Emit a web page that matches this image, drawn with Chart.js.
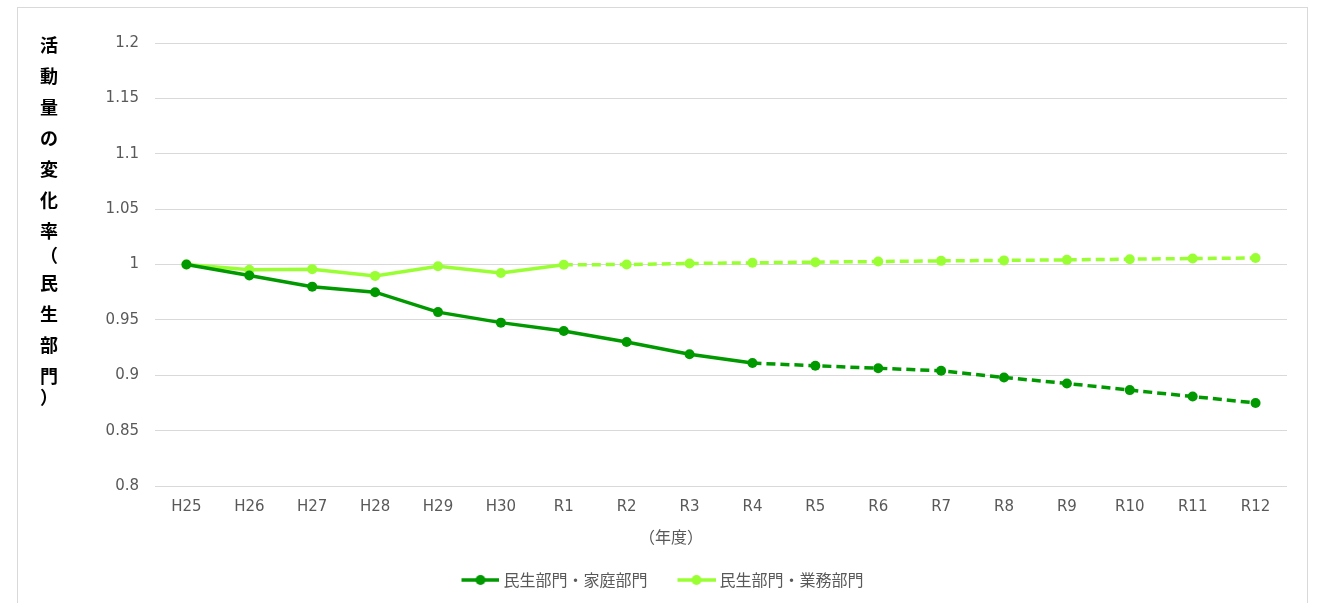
<!DOCTYPE html>
<html lang="ja">
<head>
<meta charset="utf-8">
<title>活動量の変化率（民生部門）</title>
<script src="https://cdn.jsdelivr.net/npm/chart.js@4.4.1/dist/chart.umd.min.js"></script>
<style>
  html, body { margin: 0; padding: 0; background: #ffffff; overflow: hidden; }
  #frame {
    position: absolute;
    left: 17px;
    top: 7px;
    width: 1289px;
    height: 595px;
    border: 1px solid #d9d9d9;
    background: #ffffff;
  }
  #chart { display: block; }
</style>
</head>
<body>
<div id="frame"><canvas id="chart" width="1289" height="595"></canvas></div>
<script>
// Fiscal years (Heisei 25 .. Reiwa 12)
const categories = ['H25', 'H26', 'H27', 'H28', 'H29', 'H30', 'R1', 'R2', 'R3',
                    'R4', 'R5', 'R6', 'R7', 'R8', 'R9', 'R10', 'R11', 'R12'];

// Activity change rate, residential (household) sector
const household = [1.000, 0.990, 0.980, 0.975, 0.957, 0.9475, 0.940, 0.930, 0.919,
                   0.911, 0.9086, 0.9063, 0.9041, 0.898, 0.8926, 0.8866, 0.8808, 0.875];

// Activity change rate, commercial (business) sector
const business = [1.000, 0.9953, 0.9958, 0.9897, 0.9985, 0.9924, 0.9997, 1.000, 1.0009,
                  1.0015, 1.0021, 1.0027, 1.0033, 1.0037, 1.0042, 1.0048, 1.0054, 1.0059];

// Index of the first projected year for each series (drawn dashed from here on)
const householdProjectionStart = 9;   // R4
const businessProjectionStart = 6;    // R1

const seriesNames = ['民生部門・家庭部門', '民生部門・業務部門'];
const yAxisTitle = ['活', '動', '量', 'の', '変', '化', '率', '（', '民', '生', '部', '門', '）'];
const xAxisTitle = '（年度）';

const yMin = 0.8, yMax = 1.2, yStep = 0.05;

const DARK_GREEN = '#009900';
const LIGHT_GREEN = '#99ff33';
const TEXT_GRAY = '#595959';
const GRID_GRAY = '#d9d9d9';
const LATIN_FONT = '"DejaVu Sans", Verdana, sans-serif';
const CJK_FONT = '"Noto Sans CJK JP", "Noto Sans", sans-serif';

// Legend swatch: a short line with a dot in the middle.
// The image is 42px wide with a 4px transparent lead so that, centred on a
// 34px legend box, the line runs from the box start to 4px before the text.
function legendSwatch(color) {
  const c = document.createElement('canvas');
  c.width = 42; c.height = 12;
  const g = c.getContext('2d');
  g.strokeStyle = color;
  g.lineWidth = 3.5;
  g.beginPath();
  g.moveTo(4, 6); g.lineTo(42, 6);
  g.stroke();
  g.fillStyle = color;
  g.beginPath();
  g.arc(23, 6, 5, 0, Math.PI * 2);
  g.fill();
  return c;
}

function dashedFrom(start) {
  return { borderDash: ctx => (ctx.p0DataIndex >= start ? [9, 5] : undefined) };
}

// Stacked vertical y title and the x title placed under the tick labels
const axisTitles = {
  id: 'axisTitles',
  afterDraw(chart) {
    const ctx = chart.ctx;
    ctx.save();
    ctx.fillStyle = '#000000';
    ctx.font = 'bold 18px ' + CJK_FONT;
    ctx.textAlign = 'center';
    ctx.textBaseline = 'middle';
    let y = 37;
    yAxisTitle.forEach((ch, i) => {
      ctx.fillText(ch, 31, y);
      const next = yAxisTitle[i + 1];
      if (next === '（') y += 24;
      else if (ch === '（') y += 28;
      else if (next === '）') y += 21;
      else y += 31;
    });
    ctx.fillStyle = TEXT_GRAY;
    ctx.font = '16px ' + CJK_FONT;
    ctx.fillText(xAxisTitle, 653, 529);
    ctx.restore();
  }
};

new Chart(document.getElementById('chart'), {
  type: 'line',
  data: {
    labels: categories,
    datasets: [
      {
        label: seriesNames[0],
        data: household,
        borderColor: DARK_GREEN,
        backgroundColor: DARK_GREEN,
        borderWidth: 3.5,
        pointRadius: 5,
        pointHoverRadius: 5,
        pointBorderWidth: 0,
        tension: 0,
        segment: dashedFrom(householdProjectionStart),
        swatch: legendSwatch(DARK_GREEN)
      },
      {
        label: seriesNames[1],
        data: business,
        borderColor: LIGHT_GREEN,
        backgroundColor: LIGHT_GREEN,
        borderWidth: 3.5,
        pointRadius: 5,
        pointHoverRadius: 5,
        pointBorderWidth: 0,
        tension: 0,
        segment: dashedFrom(businessProjectionStart),
        swatch: legendSwatch(LIGHT_GREEN)
      }
    ]
  },
  options: {
    responsive: false,
    animation: false,
    layout: { padding: { left: 20, right: 20, top: 35, bottom: 5 } },
    scales: {
      x: {
        offset: true,
        grid: { display: false, drawTicks: false },
        border: { display: false },
        ticks: {
          color: TEXT_GRAY,
          font: { family: LATIN_FONT, size: 15 },
          padding: 12,
          maxRotation: 0,
          autoSkip: false
        },
        afterFit(scale) { scale.height = 56; }
      },
      y: {
        min: yMin,
        max: yMax,
        grid: { color: GRID_GRAY, lineWidth: 1, drawTicks: false },
        border: { display: false },
        ticks: {
          stepSize: yStep,
          color: TEXT_GRAY,
          font: { family: LATIN_FONT, size: 15 },
          padding: 16,
          callback: v => String(Number(v.toFixed(2)))
        },
        afterFit(scale) { scale.width = 117; }
      }
    },
    plugins: {
      legend: {
        position: 'bottom',
        labels: {
          color: TEXT_GRAY,
          font: { family: CJK_FONT, size: 16 },
          usePointStyle: true,
          pointStyleWidth: 34,
          padding: 30,
          generateLabels(chart) {
            return chart.data.datasets.map((ds, i) => ({
              text: ds.label,
              fillStyle: ds.borderColor,
              strokeStyle: ds.borderColor,
              fontColor: TEXT_GRAY,
              pointStyle: ds.swatch,
              lineWidth: 0,
              hidden: !chart.isDatasetVisible(i),
              datasetIndex: i
            }));
          }
        }
      },
      tooltip: { enabled: false }
    }
  },
  plugins: [axisTitles]
});
</script>
</body>
</html>
